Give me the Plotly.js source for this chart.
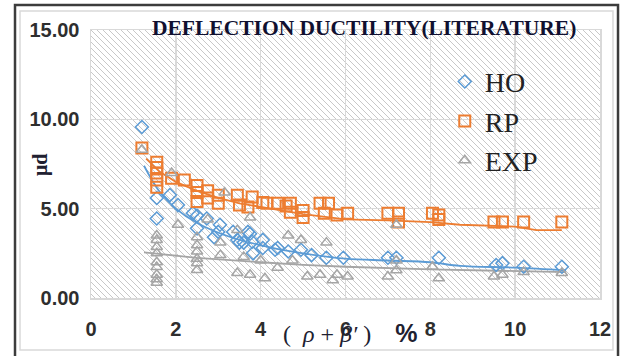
<!DOCTYPE html>
<html>
<head>
<meta charset="utf-8">
<script src="https://cdn.plot.ly/plotly-3.0.1.min.js"></script>
<style>html,body{margin:0;padding:0;background:#fff;}#chart{width:629px;height:356px;}</style>
</head>
<body>
<div id="chart"></div>
<script>
// ---- data ----
const hoX = [1.2, 1.55, 1.55, 1.86, 2.05, 2.4, 2.5, 2.5, 2.73, 2.9, 3.0, 3.04, 3.35, 3.45, 3.5, 3.6, 3.7, 3.75, 3.8, 3.82, 4.05, 4.05, 4.34, 4.4, 4.65, 4.95, 5.2, 5.55, 5.95, 7.0, 7.2, 8.2, 9.55, 9.7, 10.2, 11.1];
const hoY = [9.57, 5.6, 4.45, 5.76, 5.2, 4.75, 4.6, 3.9, 4.45, 3.4, 3.7, 4.1, 3.7, 3.25, 3.1, 3.1, 3.7, 3.6, 3.15, 2.5, 3.25, 2.8, 2.7, 2.8, 2.6, 2.7, 2.4, 2.25, 2.25, 2.25, 2.25, 2.25, 1.85, 1.95, 1.75, 1.75];

const rpX = [1.2, 1.55, 1.55, 1.55, 1.55, 1.55, 1.9, 2.2, 2.5, 2.5, 2.5, 2.75, 2.75, 3.0, 3.0, 3.45, 3.5, 3.7, 3.8, 4.05, 4.15, 4.4, 4.6, 4.7, 4.7, 5.0, 5.0, 5.4, 5.5, 5.6, 5.8, 6.05, 7.0, 7.25, 7.25, 8.05, 8.2, 8.2, 9.5, 9.7, 10.2, 11.1];
const rpY = [8.4, 7.6, 7.3, 7.0, 6.6, 6.2, 6.7, 6.6, 6.3, 5.9, 5.4, 6.0, 5.6, 5.75, 5.3, 5.75, 5.2, 5.1, 5.65, 5.35, 5.3, 5.3, 5.15, 5.3, 4.8, 4.9, 4.5, 5.3, 4.75, 5.3, 4.65, 4.75, 4.75, 4.75, 4.25, 4.75, 4.4, 4.65, 4.25, 4.25, 4.25, 4.25];

const expX = [1.2, 1.9, 2.05, 1.55, 1.55, 1.55, 1.55, 1.55, 1.55, 1.55, 1.55, 1.55, 2.5, 2.5, 2.5, 2.5, 2.5, 2.5, 2.75, 3.05, 3.05, 3.15, 3.45, 3.45, 3.6, 3.75, 3.75, 4.0, 4.1, 4.4, 4.65, 4.75, 4.95, 5.1, 5.4, 5.55, 5.7, 5.8, 6.05, 7.0, 7.2, 7.2, 7.2, 8.05, 8.2, 9.5, 9.7, 10.2, 11.1];
const expY = [8.3, 7.0, 4.1, 3.5, 3.25, 2.85, 2.5, 2.0, 1.73, 1.3, 1.05, 0.85, 3.4, 2.95, 2.6, 2.2, 1.95, 1.57, 4.4, 3.1, 2.4, 5.9, 3.8, 1.4, 2.3, 4.5, 1.3, 2.1, 1.1, 1.7, 3.5, 2.1, 3.25, 1.2, 1.3, 3.1, 1.0, 1.3, 1.2, 1.2, 4.1, 2.1, 1.55, 1.75, 1.1, 1.2, 1.3, 1.45, 1.4];

const hoTrendX = [1.25, 1.6, 2.0, 2.5, 3.3, 4.2, 5.0, 6.0, 7.0, 8.0, 8.7, 10.0, 11.2];
const hoTrendY = [7.4, 6.0, 5.0, 4.2, 3.4, 2.85, 2.5, 2.2, 2.1, 2.0, 1.8, 1.7, 1.55];
const rpTrendX = [1.3, 1.6, 2.0, 2.5, 3.0, 3.5, 4.0, 5.0, 6.0, 7.0, 8.0, 8.7, 10.0, 10.5, 11.1];
const rpTrendY = [7.8, 7.1, 6.5, 6.0, 5.6, 5.3, 5.1, 4.7, 4.4, 4.35, 4.25, 4.1, 4.0, 3.8, 3.8];
const expTrendX = [1.25, 2.5, 4.0, 5.0, 6.0, 8.0, 11.2];
const expTrendY = [2.55, 2.25, 2.0, 1.85, 1.75, 1.6, 1.45];

const xTicks = [0, 2, 4, 6, 8, 10, 12];
const yTicks = [0, 5, 10, 15];
const yTickText = ['0.00', '5.00', '10.00', '15.00'];

const BLUE = '#5B9BD5', ORANGE = '#ED7D31', GRAY = '#A5A5A5';

const traces = [
  {x: hoTrendX, y: hoTrendY, mode: 'lines', line: {color: BLUE, width: 1.8, shape: 'spline'}, showlegend: false, hoverinfo: 'skip'},
  {x: rpTrendX, y: rpTrendY, mode: 'lines', line: {color: ORANGE, width: 1.8}, showlegend: false, hoverinfo: 'skip'},
  {x: expTrendX, y: expTrendY, mode: 'lines', line: {color: GRAY, width: 1.8}, showlegend: false, hoverinfo: 'skip'},
  {x: hoX, y: hoY, name: 'HO', mode: 'markers', marker: {symbol: 'diamond-open', size: 10, color: BLUE, line: {width: 1.5, color: BLUE}}},
  {x: rpX, y: rpY, name: 'RP', mode: 'markers', marker: {symbol: 'square-open', size: 11, color: ORANGE, line: {width: 2, color: ORANGE}}},
  {x: expX, y: expY, name: 'EXP', mode: 'markers', marker: {symbol: 'triangle-up-open', size: 10, color: GRAY, line: {width: 1.5, color: GRAY}}}
];

const hatch = "<svg xmlns='http://www.w3.org/2000/svg' width='509' height='268'><defs><pattern id='p' width='6' height='6' patternUnits='userSpaceOnUse'><path d='M-1,-1 L7,7 M-1,5 L1,7 M5,-1 L7,1' stroke='#c8c8c8' stroke-width='1'/></pattern></defs><rect width='100%' height='100%' fill='url(#p)'/></svg>";

const layout = {
  width: 629, height: 356,
  margin: {l: 91, r: 29, t: 30, b: 58},
  paper_bgcolor: '#fff', plot_bgcolor: 'rgba(0,0,0,0)',
  showlegend: true,
  legend: {x: 0.695, y: 0.9, xanchor: 'left', yanchor: 'top', bgcolor: 'rgba(0,0,0,0)',
           font: {family: 'Liberation Serif, serif', size: 28, color: '#222'}},
  xaxis: {range: [0, 12], tickvals: xTicks, ticktext: xTicks.map(String), showgrid: true, gridcolor: '#d9d9d9', gridwidth: 1.5,
          zeroline: false, showline: true, mirror: true, linecolor: '#d9d9d9', linewidth: 1.5, ticks: '',
          ticklabelstandoff: 12,
          tickfont: {family: 'Liberation Sans, Arial, sans-serif', size: 20, color: '#2e2e2e', weight: 'bold'}},
  yaxis: {range: [0, 15], tickvals: yTicks, ticktext: yTickText, showgrid: true, gridcolor: '#d9d9d9', gridwidth: 1.5,
          zeroline: false, showline: true, mirror: true, linecolor: '#d9d9d9', linewidth: 1.5, ticks: '',
          ticklabelstandoff: 6,
          tickfont: {family: 'Liberation Sans, Arial, sans-serif', size: 20, color: '#2e2e2e', weight: 'bold'}},
  images: [{source: 'data:image/svg+xml;charset=utf-8,' + encodeURIComponent(hatch), xref: 'paper', yref: 'paper',
            x: 0, y: 1, sizex: 1, sizey: 1, xanchor: 'left', yanchor: 'top', sizing: 'stretch', layer: 'below'}],
  shapes: [
    {type: 'rect', xref: 'paper', yref: 'paper', x0: -0.1493, x1: 1.0354, y0: -0.25, y1: 1.0933, line: {color: '#3c3c3c', width: 2.5}},
    {type: 'rect', xref: 'paper', yref: 'paper', x0: -0.1395, x1: 1.0255, y0: -0.194, y1: 1.0709, line: {color: '#d9d9d9', width: 1.5}}
  ],
  annotations: [
    {text: '<b>DEFLECTION DUCTILITY(LITERATURE)</b>', xref: 'paper', yref: 'paper', x: (364 - 91) / 509, y: (298 - 28) / 268,
     xanchor: 'center', yanchor: 'middle', showarrow: false, font: {family: 'Liberation Serif, serif', size: 21.5, color: '#101030'}},
    {text: '<b>μd</b>', xref: 'paper', yref: 'paper', x: (40 - 91) / 509, y: (298 - 165) / 268, textangle: -90,
     xanchor: 'center', yanchor: 'middle', showarrow: false, font: {family: 'Liberation Serif, serif', size: 20, color: '#202030'}},
    {text: '(  <i>ρ</i> + <i>β′</i> )    <span style="font-family:Liberation Sans;font-weight:bold;font-size:25px">%</span>', xref: 'paper', yref: 'paper',
     x: (350 - 91) / 509, y: (298 - 333) / 268, xanchor: 'center', yanchor: 'middle', showarrow: false,
     font: {family: 'Liberation Serif, serif', size: 24, color: '#202030'}}
  ]
};

Plotly.newPlot('chart', traces, layout, {displayModeBar: false, staticPlot: true});
</script>
</body>
</html>
